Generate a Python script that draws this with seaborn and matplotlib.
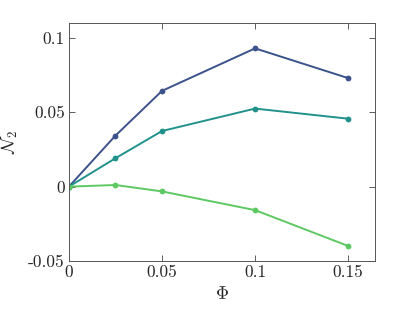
import seaborn as sns
import matplotlib.pyplot as plt
import pandas as pd
from matplotlib.ticker import FuncFormatter

# Данные
phi = [0, 0.025, 0.05, 0.1, 0.15]
n2_a = [0, 0.0343, 0.0644, 0.093, 0.073]
n2_b = [0, 0.0191, 0.0374, 0.0525, 0.0457]
n2_c = [0, 0.0011, -0.0032, -0.0158, -0.0399]
series = ['a', 'b', 'c']
colors = ['#3b528b', '#21918c', '#5ec962']

df = pd.DataFrame({
    'phi': phi * 3,
    'n2': n2_a + n2_b + n2_c,
    'set': [s for s in series for _ in phi],
})

sns.set_style('ticks')
plt.rcParams['font.family'] = ['cmr10', 'DejaVu Serif']
plt.rcParams['mathtext.fontset'] = 'cm'
plt.rcParams['axes.unicode_minus'] = False
plt.rcParams['axes.formatter.use_mathtext'] = True

fig = plt.figure(figsize=(4.15, 3.12), dpi=100)
ax = fig.add_axes([0.166, 0.1635, 0.738, 0.7625])
sns.lineplot(data=df, x='phi', y='n2', hue='set', palette=colors,
             marker='o', markersize=4.2, markeredgewidth=0, linewidth=1.4,
             legend=False, ax=ax)

ax.set_xlim(0, 0.1645)
ax.set_ylim(-0.05, 0.11)
ax.set_xticks([0, 0.05, 0.1, 0.15])
ax.set_yticks([-0.05, 0, 0.05, 0.1])
fmt = FuncFormatter(lambda v, p: '%g' % round(v, 4))
ax.xaxis.set_major_formatter(fmt)
ax.yaxis.set_major_formatter(fmt)
ax.tick_params(direction='in', length=4, width=0.6, colors='#444444',
               labelcolor='#262626', labelsize=12.5, top=True, right=True, pad=3)
for s in ax.spines.values():
    s.set_color('#555555')
    s.set_linewidth(0.7)
ax.set_xlabel(r'$\Phi$', fontsize=13, color='#262626', labelpad=4)
ax.set_ylabel(r'$\mathcal{N}_2$', fontsize=13, color='#262626', labelpad=6)

fig.savefig('out.png', dpi=100)
